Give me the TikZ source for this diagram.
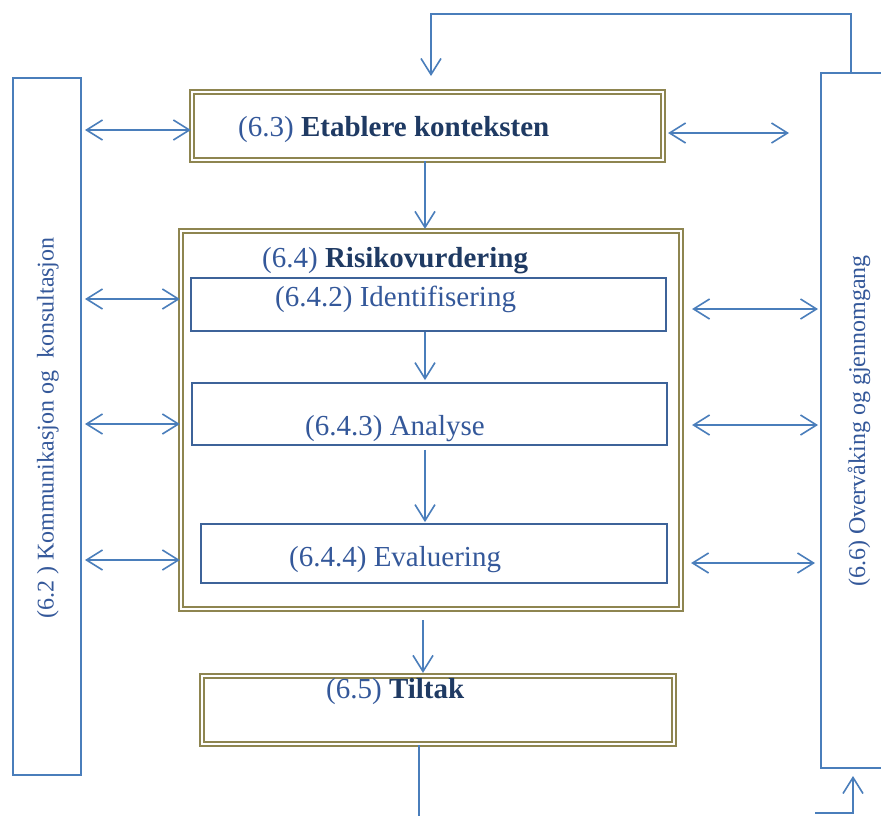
\documentclass[tikz,border=0pt]{standalone}
\usepackage{fontspec}
\setmainfont{Liberation Serif}
\usetikzlibrary{arrows.meta}
\definecolor{lineblue}{HTML}{4A7EBB}
\definecolor{boxblue}{HTML}{3D6399}
\definecolor{olivedk}{HTML}{8E8550}
\definecolor{txtreg}{HTML}{34589A}
\definecolor{txtbold}{HTML}{1F3A63}
\begin{document}
\begin{tikzpicture}[x=1pt,y=-1pt,
  dblbox/.style={draw=olivedk, double=white, double distance=2pt, line width=1.8pt, inner sep=0pt, rectangle},
  subbox/.style={draw=boxblue, line width=1.8pt, inner sep=0pt, rectangle},
  sidebox/.style={draw=lineblue, line width=2pt, inner sep=0pt, rectangle},
  conn/.style={draw=lineblue, line width=1.6pt},
  arr/.style={conn, -{Straight Barb[length=16pt,width=20pt,line width=1.6pt]}},
  dblarr/.style={conn, {Straight Barb[length=16pt,width=20pt,line width=1.6pt]}-{Straight Barb[length=16pt,width=20pt,line width=1.6pt]}},
  txt/.style={inner sep=0pt, anchor=west, text=txtreg, font=\fontsize{29}{34}\selectfont},
  vtxt/.style={inner sep=0pt, rotate=90, text=txtreg, font=\fontsize{24}{28}\selectfont}
]
\clip (0,0) rectangle (881,815);
\fill[white] (0,0) rectangle (881,815);

% side boxes
\node[sidebox, minimum width=68pt, minimum height=697pt] (L) at (47,426.5) {};
\node[sidebox, minimum width=63pt, minimum height=695pt] (R) at (852.5,420.5) {};
\node[vtxt] (tL) at (48,428) {(6.2 ) Kommunikasjon og\ \ konsultasjon};
\node[vtxt] (tR) at (859,421) {(6.6) Overvåking og gjennomgang};

% main boxes
\node[dblbox, minimum width=471.4pt, minimum height=68.4pt] (E) at (427.5,126) {};
\node[dblbox, minimum width=500.4pt, minimum height=378.4pt] (RV) at (431,420) {};
\node[subbox, minimum width=475pt, minimum height=53pt] (I) at (428.5,304.5) {};
\node[subbox, minimum width=475pt, minimum height=62pt] (A) at (429.5,414) {};
\node[subbox, minimum width=466pt, minimum height=59pt] (Ev) at (434,553.5) {};
\node[dblbox, minimum width=472.4pt, minimum height=68.4pt] (T) at (438,710) {};

% texts
\node[txt] (tE) at (238,130) {(6.3) {\color{txtbold}\bfseries Etablere konteksten}};
\node[txt] (tRV) at (262,260.5) {(6.4) {\color{txtbold}\bfseries Risikovurdering}};
\node[txt] (tI) at (275,299.5) {(6.4.2) Identifisering};
\node[txt] (tA) at (305,428.5) {(6.4.3) Analyse};
\node[txt] (tEv) at (289,559.5) {(6.4.4) Evaluering};
\node[txt] (tT) at (326,691.5) {(6.5) {\color{txtbold}\bfseries Tiltak}};

% top feedback loop
\coordinate (topR) at (851,14);
\coordinate (topL) at (431,14);
\coordinate (topTip) at (431,76);
\draw[arr] (R.north -| topR) -- (topR) -- (topL) -- (topTip);

% vertical flow
\draw[arr] ([xshift=-2.5pt]E.south) -- ([xshift=-6pt,yshift=1pt]RV.north);
\draw[arr] ([xshift=-3.5pt]I.south) -- ([xshift=-4.5pt,yshift=2pt]A.north);
\draw[arr, shorten <=4pt] ([xshift=-4.5pt]A.south) -- ([xshift=-9pt,yshift=1pt]Ev.north);
\draw[arr, shorten <=10pt] ([xshift=-8pt]RV.south) -- ([xshift=-15pt,yshift=2pt]T.north);
\coordinate (botEnd) at (419,820);
\draw[conn] ([xshift=-19pt]T.south) -- (botEnd);

% bottom return into monitoring box
\coordinate (b1) at (815,813);
\coordinate (b2) at (853,813);
\coordinate (b3) at (853,776);
\draw[arr] (b1) -- (b2) -- (b3);

% left communication arrows
\draw[dblarr, shorten <=3pt] (L.east |- 0,130) -- (E.west |- 0,130);
\draw[dblarr, shorten <=3pt] (L.east |- 0,299) -- (RV.west |- 0,299);
\draw[dblarr, shorten <=3pt] (L.east |- 0,424) -- (RV.west |- 0,424);
\draw[dblarr, shorten <=3pt] (L.east |- 0,560) -- (RV.west |- 0,560);

% right monitoring arrows
\coordinate (eR) at (789,133);
\draw[dblarr, shorten <=4pt] (E.east |- eR) -- (eR);
\draw[dblarr, shorten <=10pt, shorten >=2pt] (RV.east |- 0,309) -- (R.west |- 0,309);
\draw[dblarr, shorten <=10pt, shorten >=2pt] (RV.east |- 0,425) -- (R.west |- 0,425);
\draw[dblarr, shorten <=9pt, shorten >=5pt] (RV.east |- 0,563) -- (R.west |- 0,563);
\end{tikzpicture}
\end{document}
